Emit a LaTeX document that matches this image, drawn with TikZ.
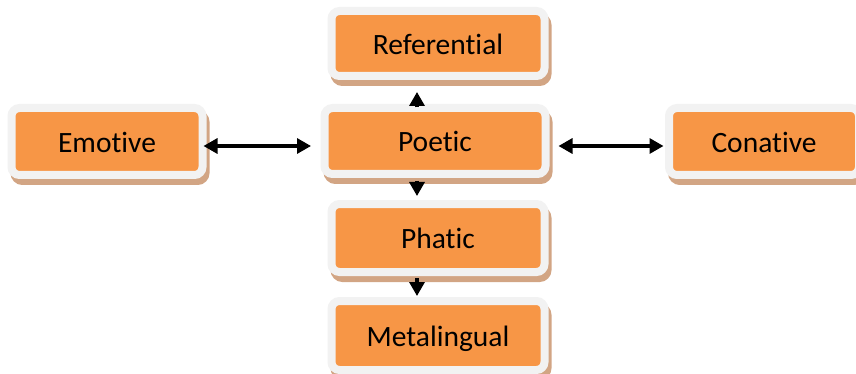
\documentclass[tikz,border=0pt]{standalone}
\usepackage{fontspec}
\setmainfont[Ligatures={NoCommon}]{Carlito}
\usetikzlibrary{arrows.meta}
\definecolor{boxorange}{HTML}{F79646}
\definecolor{boxrim}{HTML}{F2F2F2}
\definecolor{boxshade}{RGB}{210,165,132}
\tikzset{
  fnbox/.style={rectangle, rounded corners=8pt, fill=boxorange, draw=boxrim,
    line width=8pt, inner sep=0pt, text=black, text height=21.5pt, text depth=0pt,
    font=\fontsize{29.5}{33}\selectfont,
    preaction={draw=boxshade, fill=boxshade, transform canvas={shift={(3pt,-6pt)}}}},
  link/.style={line width=3.2pt, draw=black},
  tipend/.style={-{Triangle[length=14pt,width=15pt]}},
  tipboth/.style={{Triangle[length=14pt,width=15pt]}-{Triangle[length=14pt,width=15pt]}}
}
\begin{document}
\begin{tikzpicture}[x=1pt,y=-1pt]
\useasboundingbox (0,0) rectangle (856,374);
\begin{scope}
\clip (0,0) rectangle (856,374);
\node[fnbox, minimum width=213pt, minimum height=65pt] (ref) at (438,43.5) {Referential};
\node[fnbox, minimum width=221pt, minimum height=66pt] (poe) at (435,141) {Poetic};
\node[fnbox, minimum width=213pt, minimum height=68pt] (pha) at (438,238) {Phatic};
\node[fnbox, minimum width=213pt, minimum height=69pt] (met) at (438,335.5) {Metalingual};
\node[fnbox, minimum width=191pt, minimum height=67pt] (emo) at (107,141.5) {Emotive};
\node[fnbox, minimum width=190pt, minimum height=67pt] (con) at (764,141.5) {Conative};
\coordinate (vx) at (417,0);
\coordinate (hy) at (0,146);
\draw[link, tipboth, shorten <=-3pt, shorten >=9.5pt] (emo.east |- hy) -- (poe.west |- hy);
\draw[link, tipboth, shorten <=9pt, shorten >=1.5pt] (poe.east |- hy) -- (con.west |- hy);
\draw[link, tipend, shorten <=3.5pt, shorten >=12pt] (poe.north -| vx) -- (ref.south -| vx);
\draw[link, tipend, shorten <=3pt, shorten >=4pt] (poe.south -| vx) -- (pha.north -| vx);
\draw[link, tipend, shorten <=2pt, shorten >=1pt] (pha.south -| vx) -- (met.north -| vx);
\end{scope}
\end{tikzpicture}
\end{document}
